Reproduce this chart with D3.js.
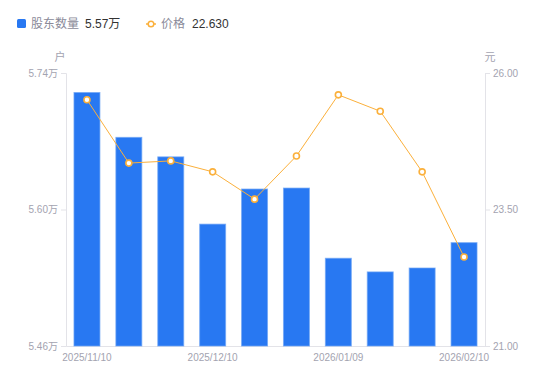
<!DOCTYPE html>
<html>
<head>
<meta charset="utf-8">
<script src="https://cdn.jsdelivr.net/npm/d3@7"></script>
<style>
  body { margin: 0; background: #fff; }
  svg { font-family: "Liberation Sans", "Noto Sans CJK SC", sans-serif; }
</style>
</head>
<body>
<svg id="chart" width="550" height="381"></svg>
<script>
// data
var dates = ["2025/11/10", "2025/11/20", "2025/11/30", "2025/12/10", "2025/12/20",
             "2025/12/31", "2026/01/09", "2026/01/20", "2026/01/31", "2026/02/10"];
var holders = [5.720, 5.674, 5.654, 5.585, 5.621, 5.622, 5.550, 5.536, 5.540, 5.566];
var prices = [25.51, 24.35, 24.39, 24.19, 23.69, 24.48, 25.60, 25.30, 24.19, 22.63];
var holderTicks = [5.46, 5.60, 5.74];
var priceTicks = [21.00, 23.50, 26.00];
var shownDates = ["2025/11/10", "2025/12/10", "2026/01/09", "2026/02/10"];

var svg = d3.select("#chart");
var plotLeft = 66, plotRight = 485, plotTop = 73, plotBottom = 346;
var gray = "#a3a3b0", axisColor = "#e3e3e8";
var blue = "#2878f2", orange = "#fbb03b";

var x = d3.scaleBand().domain(dates).range([plotLeft, plotRight]).paddingInner(0.38).paddingOuter(0.19);
var yL = d3.scaleLinear().domain([5.46, 5.74]).range([plotBottom, plotTop]);
var yR = d3.scaleLinear().domain([21, 26]).range([plotBottom, plotTop]);

// axes
var gl = svg.append("g").attr("transform", "translate(" + plotLeft + ",0)")
    .call(d3.axisLeft(yL).tickValues(holderTicks).tickSize(5).tickPadding(3)
        .tickFormat(function (d) { return d.toFixed(2) + "万"; }));
var gr = svg.append("g").attr("transform", "translate(" + plotRight + ",0)")
    .call(d3.axisRight(yR).tickValues(priceTicks).tickSize(5).tickPadding(3)
        .tickFormat(function (d) { return d.toFixed(2); }));
var gb = svg.append("g").attr("transform", "translate(0," + plotBottom + ")")
    .call(d3.axisBottom(x).tickValues(shownDates).tickSize(0).tickPadding(8));

[gl, gr, gb].forEach(function (g) {
    g.select(".domain").attr("stroke", axisColor);
    g.selectAll(".tick line").attr("stroke", axisColor);
    g.selectAll(".tick text").attr("fill", gray).style("font-size", "10px")
        .style("font-family", "'Liberation Sans', 'Noto Sans CJK SC', sans-serif");
});

// unit labels
svg.append("text").attr("x", 60).attr("y", 61).attr("text-anchor", "middle")
    .attr("fill", gray).style("font-size", "11px").text("户");
svg.append("text").attr("x", 490).attr("y", 61).attr("text-anchor", "middle")
    .attr("fill", gray).style("font-size", "11px").text("元");

// bars
svg.append("g").selectAll("rect")
    .data(holders)
    .enter().append("rect")
    .attr("x", function (d, i) { return x(dates[i]); })
    .attr("y", function (d) { return yL(d); })
    .attr("width", x.bandwidth())
    .attr("height", function (d) { return plotBottom - yL(d); })
    .attr("fill", blue)
    .attr("stroke", "#6fa5f5")
    .attr("stroke-opacity", 0.7)
    .attr("stroke-width", 1);

// price line
var line = d3.line()
    .x(function (d, i) { return x(dates[i]) + x.bandwidth() / 2; })
    .y(function (d) { return yR(d); });

svg.append("path")
    .datum(prices)
    .attr("d", line)
    .attr("fill", "none")
    .attr("stroke", orange)
    .attr("stroke-width", 1);

svg.append("g").selectAll("circle")
    .data(prices)
    .enter().append("circle")
    .attr("cx", function (d, i) { return x(dates[i]) + x.bandwidth() / 2; })
    .attr("cy", function (d) { return yR(d); })
    .attr("r", 3)
    .attr("fill", "#fff")
    .attr("stroke", orange)
    .attr("stroke-width", 1.6);

// legend
var leg = svg.append("g").style("font-size", "12px");
leg.append("rect").attr("x", 17).attr("y", 19).attr("width", 9).attr("height", 9)
    .attr("rx", 1.5).attr("fill", blue);
leg.append("text").attr("x", 31).attr("y", 28).attr("fill", "#8a8a99")
    .style("font-family", "'Noto Sans CJK SC', sans-serif").text("股东数量");
leg.append("text").attr("x", 85).attr("y", 28).attr("fill", "#333")
    .text(holders[holders.length - 1].toFixed(2) + "万");
leg.append("line").attr("x1", 146).attr("x2", 156).attr("y1", 24).attr("y2", 24)
    .attr("stroke", orange).attr("stroke-width", 1.5);
leg.append("circle").attr("cx", 151).attr("cy", 24).attr("r", 2.8)
    .attr("fill", "#fff").attr("stroke", orange).attr("stroke-width", 1.5);
leg.append("text").attr("x", 161).attr("y", 28).attr("fill", "#8a8a99")
    .style("font-family", "'Noto Sans CJK SC', sans-serif").text("价格");
leg.append("text").attr("x", 192).attr("y", 28).attr("fill", "#333")
    .text(prices[prices.length - 1].toFixed(3));
</script>
</body>
</html>
